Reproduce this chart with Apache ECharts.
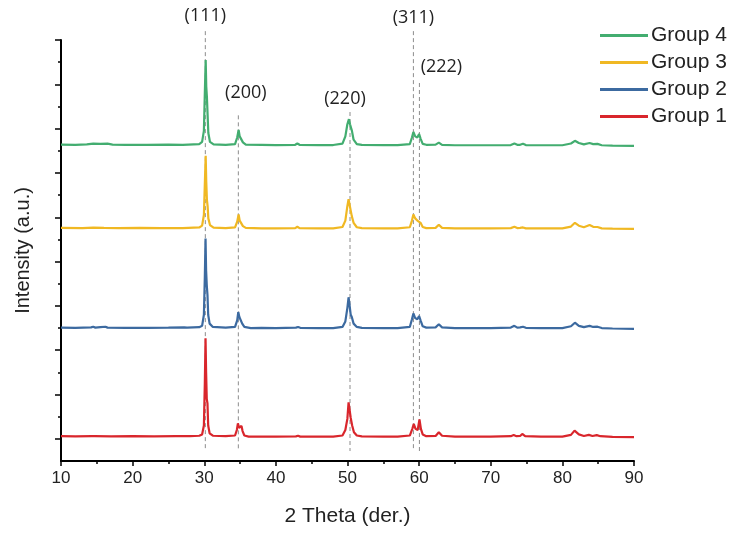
<!DOCTYPE html>
<html>
<head>
<meta charset="utf-8">
<script src="https://cdn.jsdelivr.net/npm/echarts@6/dist/echarts.min.js"></script>
<style>html,body{margin:0;padding:0;background:#fff}#c{width:738px;height:533px}</style>
</head>
<body>
<div id="c"></div>
<script>
// ---- data (2θ in degrees, offset intensity in arbitrary units) ----
const seriesNames = ['Group 1', 'Group 2', 'Group 3', 'Group 4'];
const legendOrder = ['Group 4', 'Group 3', 'Group 2', 'Group 1'];
const xTicks = [10, 20, 30, 40, 50, 60, 70, 80, 90];
const yMajorTicks = [1, 3, 5, 7, 9, 11, 13, 15, 17, 19];
const yMinorTicks = [2, 4, 6, 8, 10, 12, 14, 16, 18];

const group1 = [[10,1.12],[12,1.11],[14.3,1.12],[14.5,1.15],[14.7,1.12],[17,1.11],[20,1.12],[23,1.11],[26,1.12],[28,1.12],[29.3,1.14],[29.7,1.2],[29.95,1.6],[30.08,3.5],[30.18,5.54],[30.26,4.0],[30.35,2.8],[30.45,2.6],[30.55,1.6],[30.75,1.25],[31.2,1.14],[33,1.12],[34.3,1.15],[34.55,1.4],[34.7,1.7],[34.85,1.5],[35.0,1.45],[35.2,1.58],[35.35,1.35],[35.6,1.15],[36.2,1.10],[38,1.1],[40,1.1],[42.8,1.11],[43.1,1.14],[43.4,1.1],[46,1.1],[48,1.1],[49.3,1.15],[49.7,1.4],[49.98,1.9],[50.15,2.65],[50.3,2.3],[50.45,1.94],[50.65,1.6],[50.9,1.3],[51.3,1.15],[52,1.11],[55,1.1],[57,1.1],[58.7,1.15],[59.05,1.45],[59.25,1.67],[59.5,1.45],[59.8,1.4],[60.05,1.88],[60.25,1.45],[60.5,1.2],[61,1.12],[62.3,1.13],[62.75,1.30],[63.2,1.14],[65,1.1],[68,1.1],[70,1.1],[72.8,1.12],[73.2,1.17],[73.6,1.12],[74.1,1.13],[74.4,1.22],[74.8,1.12],[77,1.1],[80,1.1],[81.2,1.18],[81.7,1.37],[82.3,1.2],[83,1.13],[83.7,1.18],[84.2,1.13],[84.8,1.17],[85.3,1.12],[87,1.09],[90,1.08]];

const group2 = [[10,6.02],[12,6.01],[14.2,6.03],[14.5,6.06],[14.8,6.02],[15.5,6.04],[16.2,6.06],[16.5,6.02],[19,6.01],[22,6.01],[25,6.02],[27.2,6.03],[27.4,6.06],[27.6,6.02],[29.3,6.04],[29.7,6.1],[29.95,6.6],[30.08,8.3],[30.18,10.04],[30.26,8.6],[30.35,7.94],[30.45,7.5],[30.55,6.6],[30.75,6.2],[31.2,6.05],[33,6.02],[34.3,6.05],[34.6,6.35],[34.75,6.72],[34.9,6.5],[35.1,6.45],[35.3,6.2],[35.6,6.05],[36.5,6.0],[38,6.01],[40,6.0],[42.8,6.02],[43.1,6.05],[43.4,6.01],[46,6.0],[48,6.0],[49.3,6.05],[49.7,6.3],[49.98,6.9],[50.15,7.39],[50.3,7.0],[50.45,6.6],[50.6,6.5],[50.85,6.2],[51.3,6.05],[52,6.01],[55,6.0],[57,6.0],[58.7,6.05],[59.0,6.4],[59.2,6.66],[59.45,6.45],[59.75,6.4],[60.0,6.54],[60.2,6.35],[60.5,6.08],[61,6.02],[62.3,6.03],[62.75,6.17],[63.2,6.03],[65,6.0],[68,6.0],[70,6.0],[72.8,6.02],[73.3,6.1],[73.7,6.02],[74.1,6.03],[74.5,6.06],[74.9,6.01],[77,6.0],[80,6.0],[81.2,6.08],[81.75,6.24],[82.3,6.1],[83,6.04],[83.8,6.1],[84.3,6.05],[84.9,6.06],[85.5,6.0],[87,5.98],[90,5.96]];

const group3 = [[10,10.52],[13,10.51],[14.5,10.53],[16,10.52],[18,10.51],[21,10.52],[24,10.51],[27,10.51],[29.3,10.54],[29.7,10.62],[29.95,11.1],[30.08,12.5],[30.2,13.78],[30.28,12.6],[30.37,11.8],[30.47,11.5],[30.57,10.95],[30.8,10.65],[31.3,10.53],[33,10.51],[34.3,10.54],[34.6,10.8],[34.8,11.13],[34.95,10.85],[35.15,10.8],[35.4,10.6],[35.8,10.52],[38,10.5],[40,10.5],[42.7,10.51],[43.0,10.57],[43.3,10.51],[46,10.5],[48,10.5],[49.3,10.56],[49.7,10.85],[49.98,11.5],[50.15,11.81],[50.3,11.55],[50.45,11.3],[50.6,11.05],[50.85,10.75],[51.3,10.55],[52,10.51],[55,10.5],[57,10.5],[58.7,10.55],[59.0,10.85],[59.2,11.13],[59.45,10.95],[59.75,10.85],[60.0,10.91],[60.2,10.75],[60.5,10.56],[61,10.51],[62.3,10.52],[62.75,10.66],[63.2,10.52],[65,10.5],[68,10.5],[70,10.5],[72.8,10.51],[73.3,10.57],[73.7,10.51],[74.1,10.52],[74.5,10.54],[74.9,10.5],[77,10.5],[80,10.5],[81.2,10.58],[81.75,10.75],[82.3,10.62],[83,10.55],[83.8,10.65],[84.3,10.57],[84.9,10.56],[85.5,10.5],[87,10.49],[90,10.48]];

const group4 = [[10,14.28],[12,14.27],[13.6,14.29],[14.5,14.32],[15.5,14.31],[16.5,14.32],[17.2,14.28],[19,14.27],[22,14.27],[25,14.28],[27,14.27],[29.3,14.3],[29.7,14.4],[29.95,14.9],[30.08,16.6],[30.2,18.1],[30.28,16.9],[30.37,16.44],[30.47,15.6],[30.57,14.8],[30.8,14.4],[31.3,14.29],[33,14.27],[34.3,14.3],[34.6,14.6],[34.8,14.94],[34.95,14.65],[35.15,14.6],[35.4,14.38],[35.8,14.28],[38,14.27],[40,14.26],[42.7,14.27],[43.0,14.33],[43.3,14.27],[46,14.26],[48,14.26],[49.3,14.32],[49.7,14.65],[49.98,15.2],[50.2,15.43],[50.35,15.2],[50.48,15.24],[50.62,14.9],[50.85,14.5],[51.3,14.3],[52,14.27],[55,14.26],[57,14.26],[58.7,14.3],[59.0,14.6],[59.2,14.85],[59.45,14.65],[59.75,14.6],[60.0,14.76],[60.2,14.55],[60.5,14.31],[61,14.27],[62.3,14.28],[62.75,14.37],[63.2,14.27],[65,14.25],[68,14.25],[70,14.25],[72.8,14.26],[73.3,14.33],[73.7,14.27],[74.1,14.27],[74.5,14.32],[74.9,14.26],[77,14.25],[80,14.25],[81.2,14.33],[81.75,14.45],[82.3,14.35],[83,14.29],[83.8,14.35],[84.3,14.3],[84.9,14.31],[85.5,14.25],[87,14.23],[90,14.22]];

const peakLabels = ['(111)', '(200)', '(220)', '(311)', '(222)'];
const peakPos = [30.15, 34.76, 50.35, 59.2, 60.04];

// ---- styling / layout (not data) ----
const colors = ['#d9262c', '#3c6aa0', '#f0b823', '#43ad70'];
const refTop = [19.4, 15.6, 15.75, 19.4, 17.06];
const refBottom = 0.45;
const labelDx = [0, 7.5, -5, 0, 22];
const labelDy = [-15, -22, -13, -13, -16];
const FONT = '"Liberation Sans", Arial, sans-serif';

const allData = [group1, group2, group3, group4];
const chart = echarts.init(document.getElementById('c'), null, {renderer: 'canvas'});

const option = {
  backgroundColor: '#fff',
  animation: false,
  grid: {left: 61, right: 104, top: 40, bottom: 72},
  legend: {
    data: legendOrder,
    orient: 'vertical',
    left: 595,
    top: 20,
    itemWidth: 48,
    itemHeight: 3,
    icon: 'rect',
    itemGap: 6,
    textStyle: {fontFamily: FONT, fontSize: 21, color: '#222', lineHeight: 21, padding: [0, 0, 0, -2]}
  },
  xAxis: {
    type: 'value', min: 10, max: 90, interval: 10,
    name: '2 Theta (der.)', nameLocation: 'middle', nameGap: 45,
    nameTextStyle: {fontFamily: FONT, fontSize: 21, color: '#222'},
    axisLine: {show: true, lineStyle: {color: '#000', width: 2}},
    axisTick: {show: true, length: 5, lineStyle: {color: '#000', width: 1.5}},
    minorTick: {show: true, splitNumber: 2, length: 3, lineStyle: {color: '#000', width: 1.5}},
    axisLabel: {fontFamily: FONT, fontSize: 17, color: '#222', margin: 9},
    splitLine: {show: false}
  },
  yAxis: [{
    type: 'value', min: 0, max: 19, position: 'left',
    name: 'Intensity (a.u.)', nameLocation: 'middle', nameGap: 28,
    nameTextStyle: {fontFamily: FONT, fontSize: 20, color: '#222'},
    axisLine: {show: true, lineStyle: {color: '#000', width: 2}},
    axisTick: {show: true, length: 6, customValues: yMajorTicks, lineStyle: {color: '#000', width: 1.5}},
    axisLabel: {show: false},
    splitLine: {show: false}
  }, {
    type: 'value', min: 0, max: 19, position: 'left', offset: 0,
    axisLine: {show: false},
    axisTick: {show: true, length: 3, customValues: yMinorTicks, lineStyle: {color: '#000', width: 1.5}},
    axisLabel: {show: false},
    splitLine: {show: false}
  }],
  series: seriesNames.map((n, i) => ({
    name: n, type: 'line', data: allData[i], showSymbol: false, symbol: 'none',
    color: colors[i], lineStyle: {width: 2.2, color: colors[i]}, z: 3
  }))
};
chart.setOption(option);

const gfx = [];
peakPos.forEach((x, i) => {
  const t = chart.convertToPixel({xAxisIndex: 0, yAxisIndex: 0}, [x, refTop[i]]);
  const b = chart.convertToPixel({xAxisIndex: 0, yAxisIndex: 0}, [x, refBottom]);
  gfx.push({type: 'line', z: 1, silent: true,
    shape: {x1: t[0], y1: t[1], x2: b[0], y2: b[1]},
    style: {stroke: '#8c8c8c', lineWidth: 1, lineDash: [4, 3]}});
  gfx.push({type: 'text', z: 5, silent: true, x: t[0] + labelDx[i], y: t[1] + labelDy[i],
    style: {text: peakLabels[i], font: '18px "Open Sans", sans-serif', fill: '#222', align: 'center', verticalAlign: 'middle'}});
});
chart.setOption({graphic: gfx});
</script>
</body>
</html>
